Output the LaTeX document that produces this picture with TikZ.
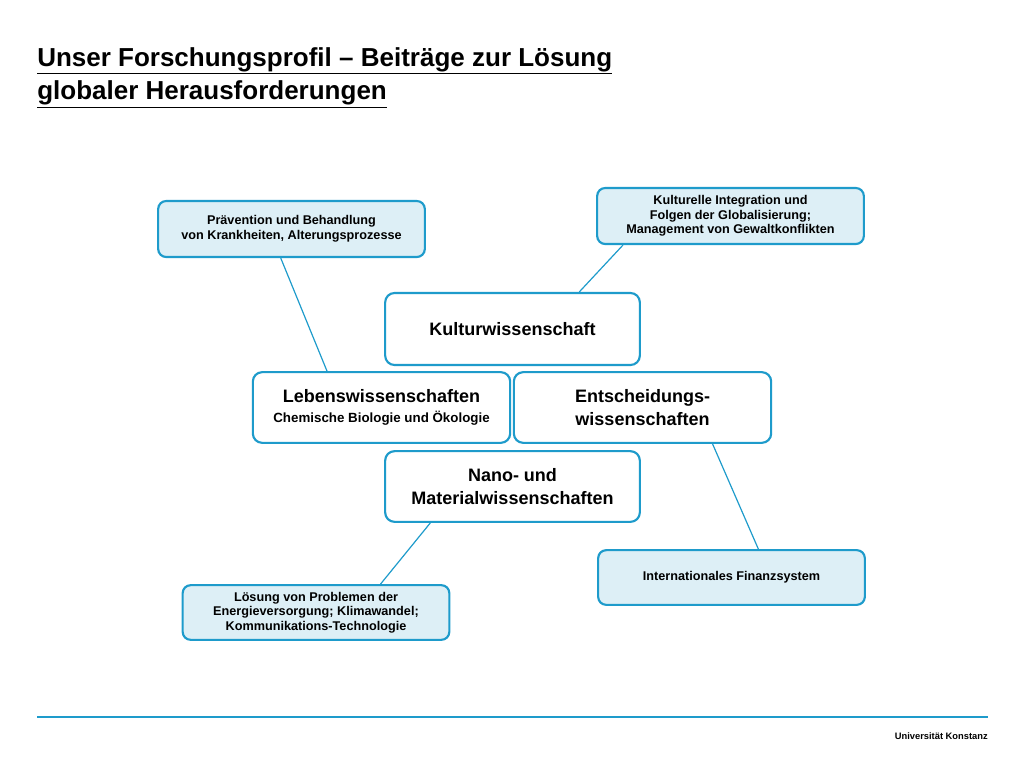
\documentclass[tikz,border=0pt]{standalone}
\usepackage{fontspec}
\setmainfont{Liberation Sans}
\usetikzlibrary{calc}
\definecolor{unikn}{HTML}{1E9BCB}
\definecolor{unifill}{HTML}{DDEFF6}
\tikzset{
  topic/.style={draw=unikn, line width=1.6pt, rounded corners=6pt, fill=unifill,
    align=center, font=\bfseries\fontsize{9.5}{11}\selectfont, inner sep=0pt},
  field/.style={draw=unikn, line width=1.6pt, rounded corners=7pt, fill=white,
    align=center, font=\bfseries\fontsize{13.5}{17}\selectfont, inner sep=0pt},
  link/.style={draw=unikn, line width=0.9pt}
}
\begin{document}
\begin{tikzpicture}[x=0.75pt,y=-0.75pt]
\useasboundingbox (0,0) rectangle (1024,768);
% title
\node[anchor=north west, align=left, inner sep=0pt, font=\bfseries\fontsize{19.5}{25}\selectfont] (title) at (37,47)
  {\underline{Unser Forschungsprofil -- Beiträge zur Lösung}\\\underline{globaler Herausforderungen}};
% fields
\node[field, minimum width=191pt, minimum height=54pt] (kultur) at (512.5,329) {Kulturwissenschaft};
\node[field, minimum width=193pt, minimum height=53pt] (lebens) at (381.5,407.5)
  {Lebenswissenschaften\\[-2pt]{\fontsize{10}{12}\selectfont Chemische Biologie und Ökologie}};
\node[field, minimum width=193pt, minimum height=53pt] (entsch) at (642.5,407.5) {Entscheidungs-\\wissenschaften};
\node[field, minimum width=191pt, minimum height=53pt] (nano) at (512.5,486.5) {Nano- und\\Materialwissenschaften};
% topics
\node[topic, minimum width=200pt, minimum height=42pt] (praev) at (291.5,229) {Prävention und Behandlung\\von Krankheiten, Alterungsprozesse};
\node[topic, minimum width=200pt, minimum height=42pt] (kint) at (730.5,216) {Kulturelle Integration und\\Folgen der Globalisierung;\\Management von Gewaltkonflikten};
\node[topic, minimum width=200pt, minimum height=41pt] (loes) at (316,612.5) {Lösung von Problemen der\\Energieversorgung; Klimawandel;\\Kommunikations-Technologie};
\node[topic, minimum width=200pt, minimum height=41pt] (finanz) at (731.5,577.5) {Internationales Finanzsystem};
% links
\draw[link] ($(praev.south west)!0.46!(praev.south east)$) -- ($(lebens.north west)!0.29!(lebens.north east)$);
\draw[link] ($(kint.south west)!0.10!(kint.south east)$) -- ($(kultur.north west)!0.76!(kultur.north east)$);
\draw[link] ($(nano.south west)!0.18!(nano.south east)$) -- ($(loes.north west)!0.74!(loes.north east)$);
\draw[link] ($(entsch.south west)!0.77!(entsch.south east)$) -- ($(finanz.north west)!0.60!(finanz.north east)$);
% footer
\draw[unikn, line width=1.2pt] (37,717) -- (988,717);
\node[anchor=east, inner sep=0pt, font=\bfseries\fontsize{7}{8}\selectfont] (uni) at (988,736) {Universität Konstanz};
\end{tikzpicture}
\end{document}
